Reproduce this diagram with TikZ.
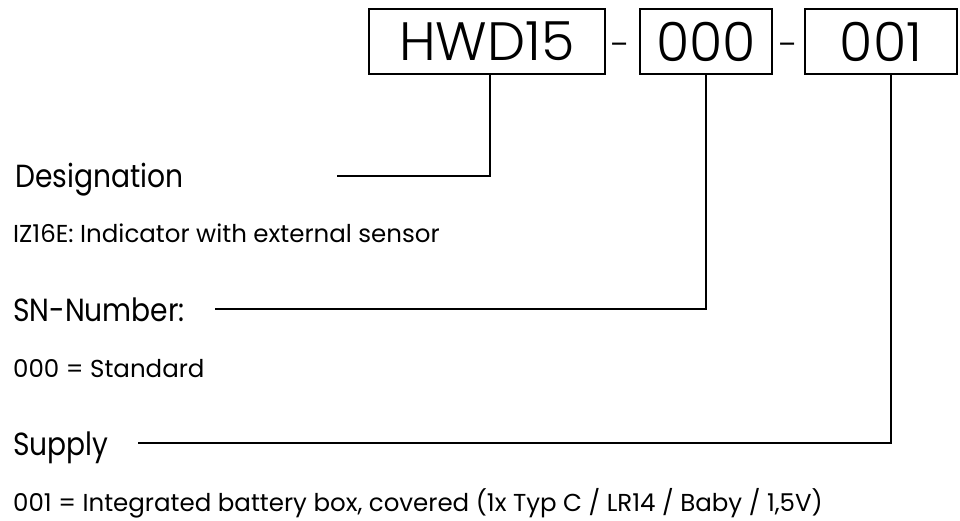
\documentclass[tikz,border=0pt]{standalone}
\usepackage{fontspec}
\setmainfont{Poppins}
\newfontfamily\codefont{Poppins Light}
\newfontfamily\headfont[FakeStretch=0.88]{Poppins}
\usetikzlibrary{positioning, calc}

\tikzset{
  codebox/.style={draw, line width=1.1pt, inner sep=0pt, minimum height=65,
    font=\codefont\fontsize{54}{54}\selectfont},
  dashsign/.style={inner sep=0pt, font=\codefont\fontsize{36}{36}\selectfont},
  heading/.style={anchor=base west, inner sep=0pt,
    font=\headfont\fontsize{32}{32}\selectfont},
  entry/.style={anchor=base west, inner sep=0pt, font=\fontsize{24.5}{24.5}\selectfont},
  leader/.style={line width=1.1pt}
}

\begin{document}
\begin{tikzpicture}[x=1pt, y=-1pt]
    \useasboundingbox (0,0) rectangle (960,520);

    % Type code
    \node[codebox, minimum width=236] (hwd) at (487,41.5) {HWD15};
    \node[dashsign] (dash1) at (621,50.5) {-};
    \node[codebox, minimum width=132] (sn) at (706,41.5) {000};
    \node[dashsign] (dash2) at (789,50.5) {-};
    \node[codebox, minimum width=152] (sup) at (881,41.5) {001};

    % Descriptions
    \node[heading] (desig) at (15,187) {Designation};
    \node[entry] (desigtxt) at (13,242) {IZ16E: Indicator with external sensor};
    \node[heading] (snhead) at (13,321) {SN-Number:};
    \node[entry] (sntxt) at (13,377) {000 = Standard};
    \node[heading] (suphead) at (13,455) {Supply};
    \node[entry] (suptxt) at (13,511)
        {001 = Integrated battery box, covered (1x Typ C / LR14 / Baby / 1,5V)};

    % Leaders
    \coordinate (desigEnd) at (337,176);
    \coordinate (snEnd) at (215,309);
    \coordinate (supEnd) at (138,443);
    \draw[leader] ([xshift=3]hwd.south) |- (desigEnd);
    \draw[leader] (sn.south) |- (snEnd);
    \draw[leader] ([xshift=10]sup.south) |- (supEnd);
\end{tikzpicture}
\end{document}
